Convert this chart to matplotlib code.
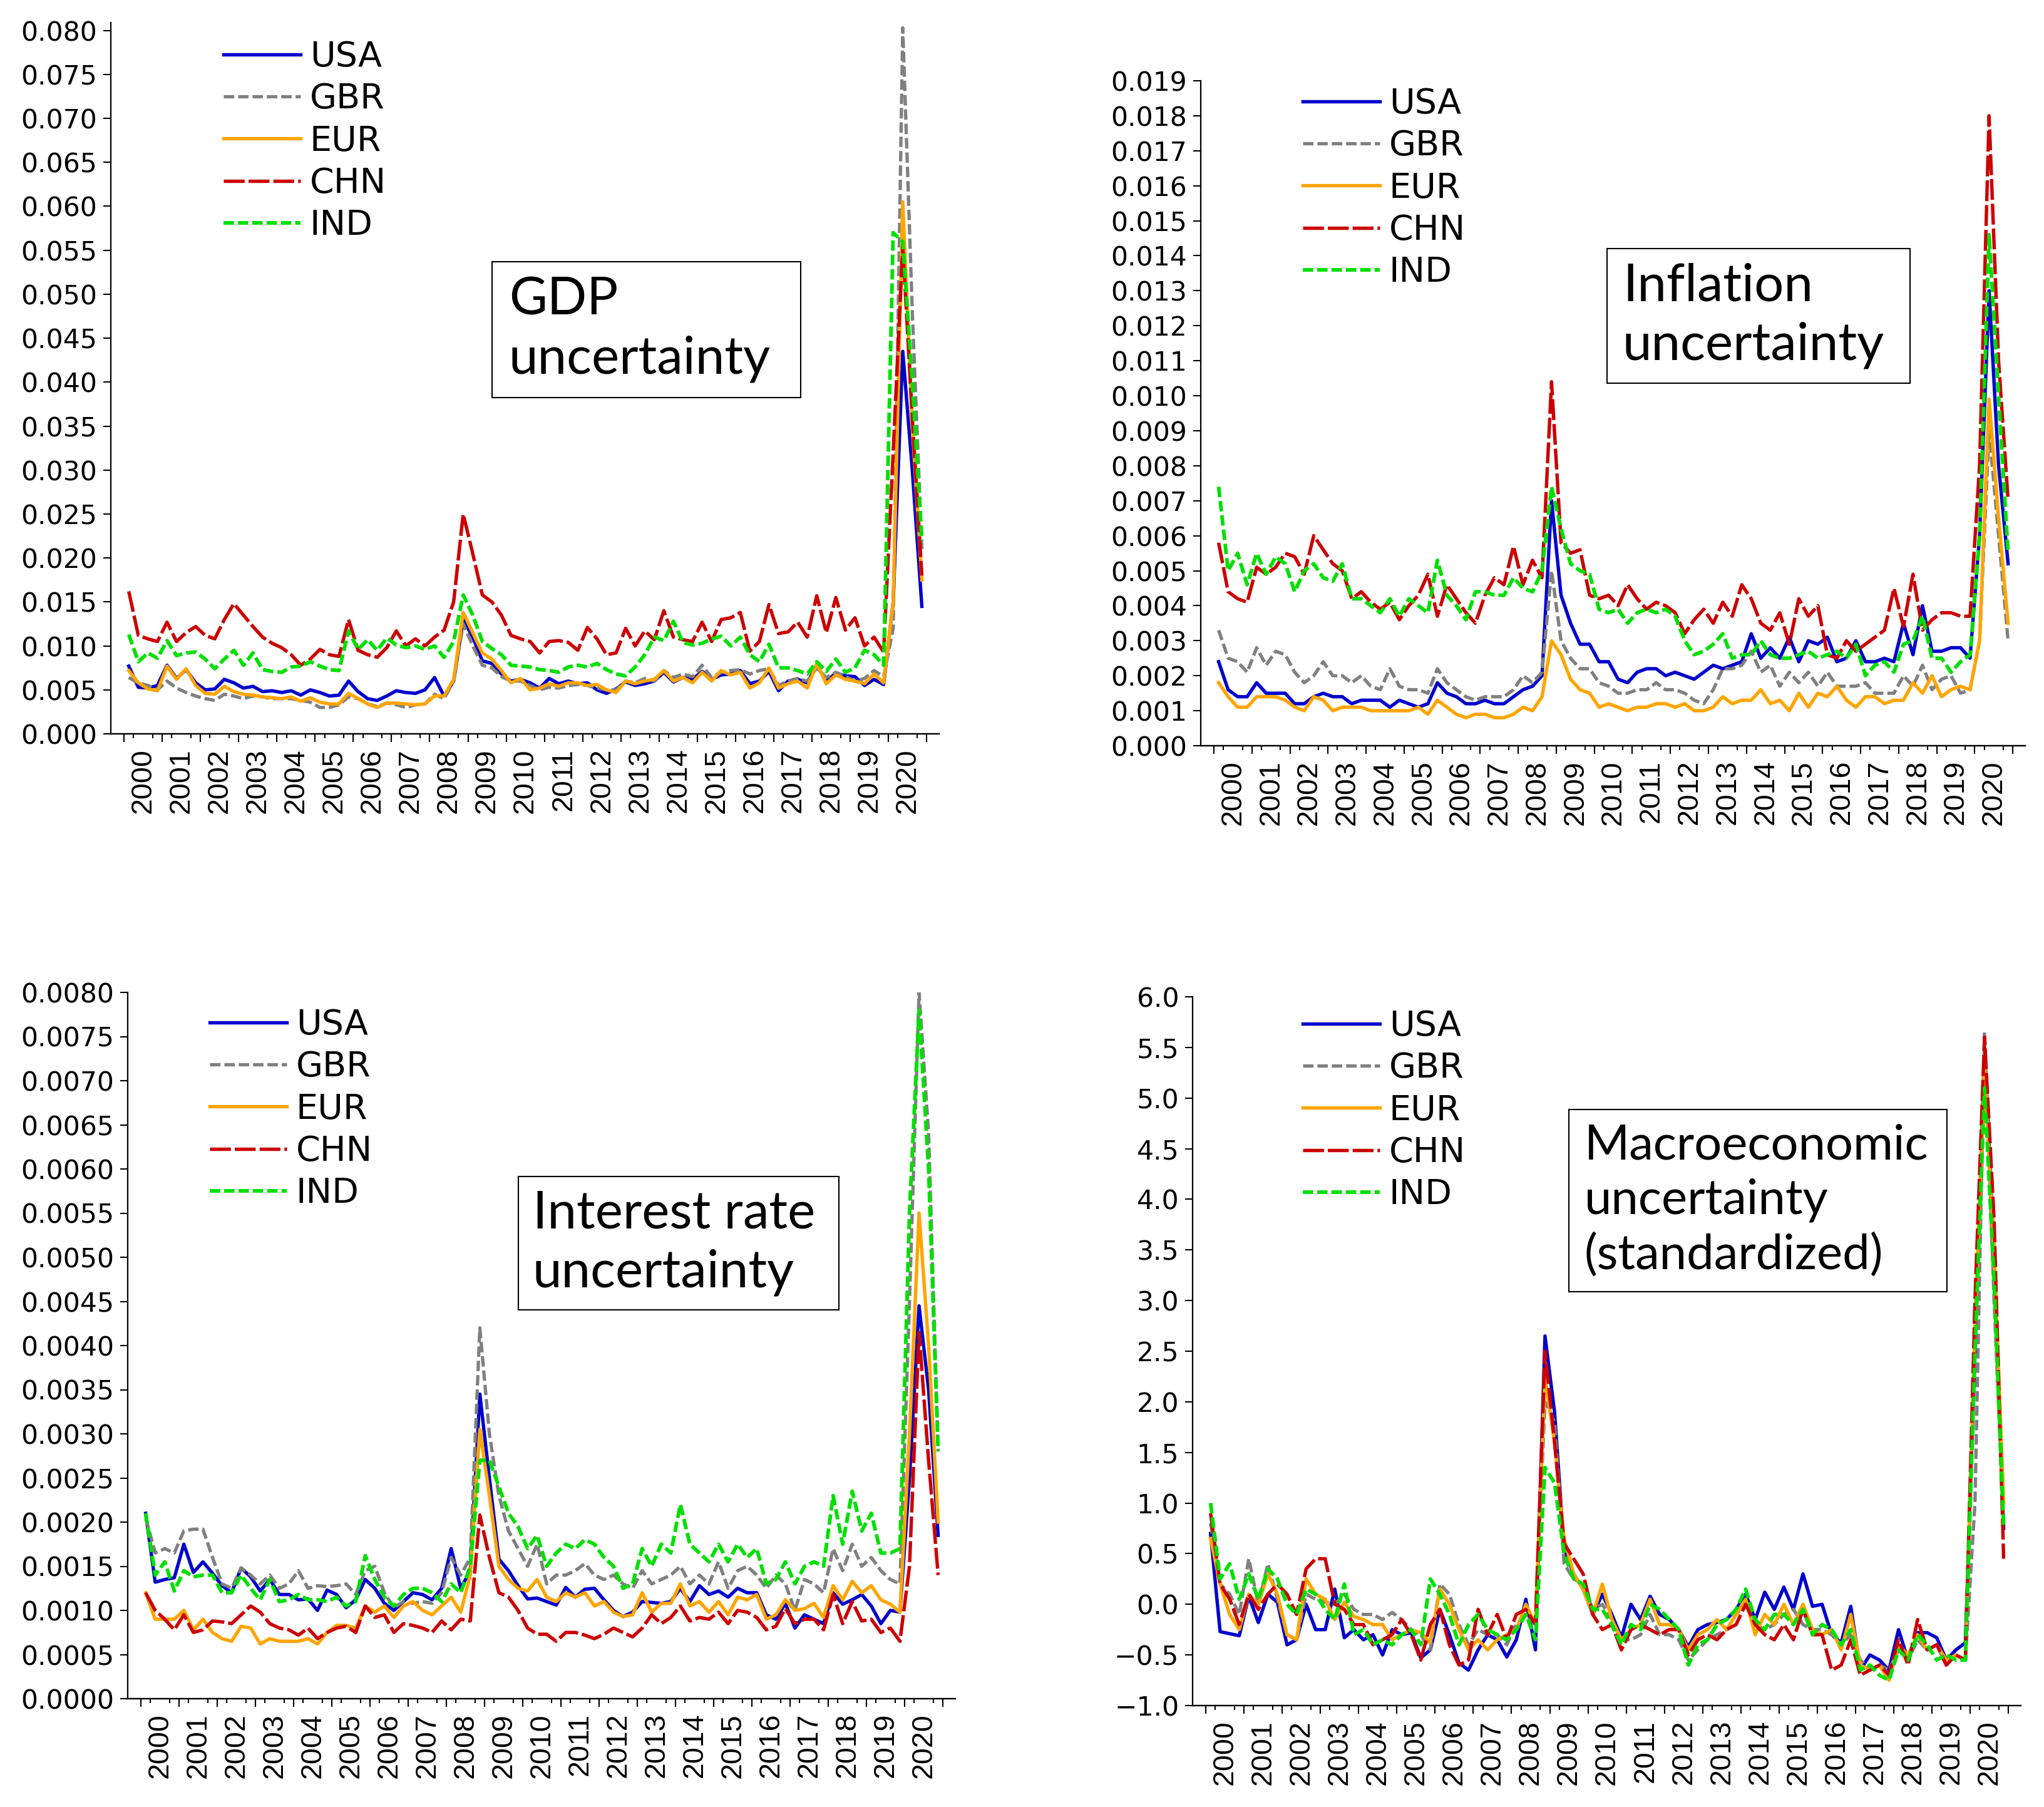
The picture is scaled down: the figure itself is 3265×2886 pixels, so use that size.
import numpy as np
import matplotlib
matplotlib.use("Agg")
import matplotlib.pyplot as plt
from matplotlib.patches import Rectangle
from matplotlib.ticker import FuncFormatter

plt.rcParams["lines.scale_dashes"] = False

# ---------------- data: quarterly, 2000Q1 .. 2020Q4 ----------------
years = list(range(2000, 2021))
countries = ["USA", "GBR", "EUR", "CHN", "IND"]

# GDP uncertainty
gdp_usa = [.0077, .0053, .0052, .0055, .0078, .0063, .0073, .0058, .0050, .0051, .0062, .0058,
           .0052, .0054, .0048, .0049, .0047, .0049, .0044, .0050, .0047, .0043, .0044, .0060,
           .0048, .0040, .0038, .0043, .0049, .0047, .0046, .0050, .0064, .0043, .0060, .0130,
           .0110, .0083, .0080, .0068, .0060, .0062, .0058, .0052, .0063, .0057, .0060, .0057,
           .0058, .0050, .0046, .0051, .0059, .0055, .0057, .0060, .0070, .0059, .0064, .0062,
           .0071, .0062, .0067, .0068, .0072, .0057, .0060, .0071, .0049, .0060, .0062, .0058,
           .0078, .0060, .0069, .0066, .0065, .0055, .0062, .0056, .0150, .0435, .0300, .0145]
gdp_gbr = [.0064, .0058, .0055, .0050, .0060, .0052, .0047, .0043, .0040, .0038, .0045, .0043,
           .0040, .0043, .0042, .0040, .0040, .0040, .0038, .0036, .0030, .0030, .0033, .0042,
           .0040, .0034, .0031, .0035, .0033, .0030, .0033, .0034, .0045, .0040, .0060, .0125,
           .0100, .0078, .0075, .0065, .0060, .0060, .0055, .0050, .0053, .0052, .0055, .0056,
           .0055, .0052, .0050, .0050, .0060, .0058, .0063, .0060, .0072, .0064, .0068, .0065,
           .0078, .0064, .0070, .0072, .0073, .0068, .0072, .0074, .0055, .0060, .0063, .0060,
           .0075, .0064, .0070, .0065, .0060, .0063, .0072, .0065, .0120, .0803, .0480, .0210]
gdp_eur = [.0072, .0058, .0051, .0049, .0077, .0062, .0074, .0055, .0046, .0045, .0054, .0048,
           .0045, .0044, .0042, .0041, .0040, .0042, .0037, .0041, .0036, .0034, .0034, .0046,
           .0040, .0034, .0030, .0035, .0035, .0034, .0033, .0034, .0043, .0043, .0062, .0138,
           .0115, .0092, .0085, .0072, .0058, .0063, .0050, .0052, .0057, .0054, .0058, .0058,
           .0055, .0056, .0050, .0047, .0060, .0057, .0060, .0062, .0072, .0060, .0064, .0058,
           .0070, .0060, .0072, .0067, .0070, .0052, .0058, .0075, .0052, .0057, .0060, .0052,
           .0080, .0057, .0067, .0062, .0060, .0057, .0068, .0058, .0150, .0605, .0350, .0175]
gdp_chn = [.0162, .0112, .0108, .0105, .0127, .0105, .0115, .0122, .0112, .0108, .0130, .0148,
           .0135, .0122, .0110, .0103, .0098, .0090, .0078, .0085, .0096, .0090, .0088, .0130,
           .0095, .0090, .0087, .0098, .0117, .0100, .0108, .0100, .0110, .0118, .0150, .0250,
           .0205, .0158, .0150, .0135, .0112, .0108, .0105, .0092, .0105, .0106, .0104, .0095,
           .0121, .0108, .0090, .0092, .0120, .0100, .0117, .0107, .0140, .0110, .0107, .0105,
           .0127, .0105, .0130, .0132, .0138, .0094, .0105, .0147, .0114, .0116, .0127, .0110,
           .0157, .0115, .0155, .0118, .0132, .0100, .0110, .0093, .0320, .0555, .0360, .0180]
gdp_ind = [.0113, .0082, .0092, .0086, .0106, .0089, .0092, .0093, .0085, .0074, .0085, .0095,
           .0078, .0092, .0073, .0071, .0070, .0076, .0077, .0082, .0077, .0073, .0072, .0117,
           .0096, .0107, .0095, .0109, .0101, .0098, .0100, .0096, .0100, .0087, .0105, .0158,
           .0135, .0105, .0097, .0090, .0078, .0077, .0076, .0073, .0072, .0070, .0076, .0078,
           .0076, .0080, .0073, .0068, .0066, .0076, .0090, .0110, .0106, .0128, .0104, .0101,
           .0103, .0108, .0111, .0100, .0110, .0090, .0082, .0102, .0075, .0075, .0072, .0068,
           .0082, .0071, .0085, .0070, .0075, .0095, .0090, .0078, .0570, .0560, .0400, .0220]

# Inflation uncertainty
inf_usa = [.0024, .0016, .0014, .0014, .0018, .0015, .0015, .0015, .0012, .0012, .0014, .0015,
           .0014, .0014, .0012, .0013, .0013, .0013, .0011, .0013, .0012, .0011, .0012, .0018,
           .0015, .0014, .0012, .0012, .0013, .0012, .0012, .0014, .0016, .0017, .0020, .0070,
           .0043, .0035, .0029, .0029, .0024, .0024, .0019, .0018, .0021, .0022, .0022, .0020,
           .0021, .0020, .0019, .0021, .0023, .0022, .0023, .0024, .0032, .0025, .0028, .0025,
           .0031, .0024, .0030, .0029, .0031, .0024, .0025, .0030, .0024, .0024, .0025, .0024,
           .0035, .0026, .0040, .0027, .0027, .0028, .0028, .0025, .0060, .0130, .0080, .0052]
inf_gbr = [.0033, .0025, .0024, .0021, .0028, .0023, .0027, .0026, .0021, .0018, .0020, .0024,
           .0020, .0020, .0018, .0020, .0017, .0016, .0022, .0017, .0016, .0016, .0015, .0022,
           .0018, .0016, .0014, .0013, .0014, .0014, .0014, .0016, .0020, .0018, .0021, .0050,
           .0030, .0025, .0022, .0022, .0018, .0017, .0015, .0015, .0016, .0016, .0018, .0016,
           .0016, .0015, .0013, .0012, .0016, .0022, .0022, .0023, .0027, .0021, .0023, .0017,
           .0021, .0018, .0021, .0017, .0021, .0017, .0017, .0017, .0018, .0015, .0015, .0015,
           .0020, .0017, .0023, .0016, .0019, .0020, .0015, .0016, .0030, .0090, .0060, .0030]
inf_eur = [.0018, .0014, .0011, .0011, .0014, .0014, .0014, .0013, .0011, .0010, .0014, .0013,
           .0010, .0011, .0011, .0011, .0010, .0010, .0010, .0010, .0010, .0011, .0009, .0013,
           .0011, .0009, .0008, .0009, .0009, .0008, .0008, .0009, .0011, .0010, .0014, .0030,
           .0026, .0019, .0016, .0015, .0011, .0012, .0011, .0010, .0011, .0011, .0012, .0012,
           .0011, .0012, .0010, .0010, .0011, .0014, .0012, .0013, .0013, .0016, .0012, .0013,
           .0010, .0015, .0011, .0015, .0014, .0017, .0013, .0011, .0014, .0014, .0012, .0013,
           .0013, .0018, .0015, .0020, .0014, .0016, .0017, .0016, .0030, .0099, .0065, .0035]
inf_chn = [.0058, .0044, .0042, .0041, .0051, .0049, .0051, .0055, .0054, .0049, .0060, .0056,
           .0052, .0050, .0042, .0044, .0041, .0039, .0041, .0036, .0040, .0043, .0049, .0037,
           .0046, .0042, .0038, .0035, .0043, .0048, .0046, .0057, .0046, .0053, .0048, .0104,
           .0058, .0055, .0056, .0043, .0042, .0043, .0040, .0046, .0042, .0039, .0041, .0040,
           .0038, .0032, .0036, .0039, .0035, .0041, .0037, .0046, .0042, .0035, .0033, .0038,
           .0029, .0042, .0037, .0040, .0026, .0025, .0030, .0027, .0029, .0031, .0033, .0045,
           .0034, .0049, .0033, .0036, .0038, .0038, .0037, .0037, .0080, .0180, .0110, .0070]
inf_ind = [.0074, .0050, .0055, .0046, .0055, .0049, .0054, .0052, .0044, .0050, .0052, .0048,
           .0047, .0052, .0042, .0042, .0040, .0038, .0042, .0037, .0042, .0040, .0038, .0053,
           .0043, .0040, .0036, .0044, .0044, .0043, .0043, .0048, .0045, .0044, .0050, .0074,
           .0062, .0052, .0050, .0049, .0039, .0038, .0039, .0035, .0038, .0039, .0038, .0039,
           .0037, .0030, .0026, .0027, .0029, .0032, .0025, .0026, .0026, .0030, .0026, .0025,
           .0025, .0026, .0027, .0025, .0026, .0027, .0025, .0029, .0020, .0023, .0024, .0021,
           .0029, .0030, .0037, .0025, .0025, .0021, .0024, .0026, .0060, .0146, .0100, .0055]

# Interest rate uncertainty
int_usa = [.00210, .00132, .00135, .00137, .00175, .00143, .00155, .00142, .00128, .00120, .00148, .00138,
           .00122, .00135, .00118, .00118, .00112, .00113, .00100, .00123, .00118, .00103, .00112, .00135,
           .00125, .00108, .00100, .00110, .00120, .00118, .00112, .00125, .00170, .00125, .00145, .00345,
           .00250, .00158, .00145, .00128, .00113, .00114, .00110, .00106, .00126, .00115, .00124, .00125,
           .00112, .00100, .00093, .00098, .00110, .00109, .00108, .00110, .00125, .00110, .00128, .00118,
           .00122, .00115, .00125, .00120, .00120, .00095, .00090, .00108, .00080, .00095, .00090, .00085,
           .00120, .00107, .00112, .00118, .00105, .00085, .00100, .00098, .00250, .00445, .00350, .00185]
int_gbr = [.00205, .00165, .00170, .00165, .00190, .00192, .00192, .00160, .00130, .00125, .00148, .00140,
           .00130, .00140, .00125, .00130, .00145, .00125, .00128, .00127, .00128, .00130, .00118, .00145,
           .00150, .00120, .00103, .00110, .00108, .00110, .00108, .00120, .00160, .00140, .00160, .00420,
           .00300, .00230, .00190, .00170, .00150, .00175, .00130, .00140, .00140, .00145, .00153, .00140,
           .00135, .00140, .00130, .00125, .00145, .00130, .00135, .00140, .00150, .00130, .00140, .00130,
           .00155, .00125, .00145, .00150, .00140, .00125, .00140, .00130, .00100, .00135, .00130, .00120,
           .00170, .00145, .00175, .00150, .00160, .00145, .00135, .00130, .00450, .00800, .00640, .00280]
int_eur = [.00120, .00090, .00090, .00090, .00100, .00078, .00090, .00075, .00068, .00065, .00082, .00080,
           .00062, .00068, .00065, .00065, .00065, .00068, .00062, .00075, .00083, .00083, .00080, .00105,
           .00098, .00105, .00092, .00105, .00110, .00100, .00095, .00105, .00115, .00098, .00140, .00305,
           .00230, .00150, .00135, .00125, .00122, .00135, .00115, .00110, .00120, .00115, .00120, .00105,
           .00110, .00098, .00093, .00095, .00120, .00098, .00108, .00108, .00130, .00105, .00110, .00098,
           .00110, .00095, .00115, .00112, .00118, .00090, .00095, .00112, .00100, .00102, .00108, .00092,
           .00128, .00112, .00133, .00120, .00128, .00112, .00107, .00098, .00300, .00550, .00400, .00200]
int_chn = [.00120, .00100, .00090, .00078, .00095, .00075, .00078, .00088, .00087, .00085, .00095, .00105,
           .00098, .00085, .00080, .00078, .00072, .00080, .00068, .00075, .00080, .00082, .00075, .00105,
           .00092, .00095, .00075, .00085, .00083, .00080, .00075, .00088, .00078, .00090, .00088, .00208,
           .00160, .00120, .00115, .00100, .00080, .00073, .00073, .00065, .00075, .00075, .00072, .00068,
           .00073, .00080, .00075, .00070, .00080, .00095, .00085, .00092, .00105, .00088, .00092, .00090,
           .00098, .00085, .00100, .00098, .00092, .00078, .00082, .00102, .00085, .00090, .00090, .00078,
           .00118, .00085, .00110, .00088, .00090, .00075, .00080, .00065, .00150, .00415, .00270, .00140]
int_ind = [.00210, .00140, .00155, .00122, .00145, .00138, .00140, .00140, .00120, .00120, .00140, .00125,
           .00112, .00135, .00110, .00112, .00118, .00112, .00112, .00110, .00115, .00105, .00110, .00162,
           .00135, .00115, .00105, .00118, .00125, .00125, .00120, .00110, .00130, .00120, .00150, .00270,
           .00270, .00240, .00210, .00195, .00170, .00185, .00150, .00165, .00175, .00170, .00180, .00175,
           .00160, .00150, .00125, .00130, .00170, .00150, .00175, .00165, .00220, .00175, .00165, .00155,
           .00175, .00155, .00175, .00160, .00170, .00130, .00135, .00155, .00130, .00150, .00155, .00150,
           .00230, .00175, .00235, .00190, .00210, .00165, .00165, .00170, .00550, .00780, .00600, .00280]

# Macroeconomic uncertainty (standardized)
mac_usa = [0.70, -0.27, -0.29, -0.31, 0.08, -0.18, 0.10, 0.02, -0.40, -0.35, 0.00, -0.25,
           -0.25, 0.15, -0.33, -0.25, -0.35, -0.30, -0.50, -0.25, -0.30, -0.28, -0.53, -0.45,
           -0.05, -0.30, -0.58, -0.65, -0.45, -0.30, -0.35, -0.52, -0.35, 0.05, -0.45, 2.65,
           1.90, 0.55, 0.30, 0.15, -0.10, 0.10, -0.10, -0.33, 0.00, -0.15, 0.08, -0.10,
           -0.15, -0.25, -0.42, -0.25, -0.20, -0.18, -0.15, -0.05, 0.10, -0.15, 0.12, -0.05,
           0.17, -0.05, 0.30, -0.02, 0.00, -0.30, -0.38, -0.02, -0.65, -0.50, -0.55, -0.65,
           -0.25, -0.55, -0.28, -0.28, -0.33, -0.55, -0.45, -0.38, 2.50, 5.50, 3.50, 0.75]
mac_gbr = [0.80, 0.20, 0.10, -0.10, 0.45, 0.00, 0.40, 0.05, -0.30, -0.35, 0.10, 0.05,
           0.02, 0.00, 0.10, -0.05, -0.10, -0.10, -0.15, -0.08, -0.15, -0.25, -0.30, -0.45,
           0.20, 0.10, -0.20, -0.40, -0.25, -0.30, -0.30, -0.40, -0.20, -0.10, -0.20, 2.00,
           1.80, 0.40, 0.25, 0.20, -0.05, 0.00, -0.15, -0.35, -0.35, -0.30, -0.10, -0.30,
           -0.30, -0.35, -0.55, -0.45, -0.35, -0.30, -0.25, -0.10, 0.00, -0.20, -0.25, -0.20,
           -0.10, -0.05, -0.20, -0.25, -0.25, -0.30, -0.40, -0.30, -0.55, -0.65, -0.60, -0.65,
           -0.45, -0.55, -0.35, -0.45, -0.40, -0.60, -0.50, -0.55, 1.00, 5.65, 3.00, 0.80]
mac_eur = [0.65, 0.20, -0.10, -0.25, 0.10, 0.00, 0.30, 0.10, -0.30, -0.35, 0.25, 0.10,
           0.05, -0.15, 0.02, -0.12, -0.15, -0.20, -0.20, -0.35, -0.30, -0.25, -0.28, -0.38,
           0.15, 0.00, -0.25, -0.45, -0.35, -0.45, -0.35, -0.30, -0.25, 0.00, -0.20, 2.25,
           1.60, 0.65, 0.30, 0.15, -0.10, 0.20, -0.15, -0.35, -0.25, -0.20, 0.05, -0.20,
           -0.20, -0.25, -0.45, -0.30, -0.25, -0.15, -0.25, -0.10, 0.05, -0.30, -0.10, -0.20,
           0.00, -0.20, 0.00, -0.25, -0.30, -0.25, -0.45, -0.10, -0.60, -0.65, -0.60, -0.75,
           -0.40, -0.50, -0.30, -0.45, -0.40, -0.55, -0.50, -0.55, 2.80, 5.30, 3.50, 1.00]
mac_chn = [0.90, 0.20, 0.05, -0.20, 0.10, -0.05, 0.10, 0.20, 0.10, -0.10, 0.35, 0.45,
           0.45, 0.00, -0.05, -0.20, -0.20, -0.40, -0.35, -0.30, -0.15, -0.30, -0.55, -0.20,
           -0.05, -0.40, -0.60, -0.55, -0.05, -0.30, -0.10, -0.35, -0.10, -0.05, -0.20, 2.50,
           1.60, 0.60, 0.45, 0.30, -0.10, -0.25, -0.20, -0.45, -0.25, -0.20, -0.25, -0.30,
           -0.25, -0.25, -0.50, -0.35, -0.30, -0.35, -0.25, -0.20, 0.00, -0.20, -0.30, -0.35,
           -0.20, -0.35, -0.05, -0.30, -0.30, -0.65, -0.60, -0.35, -0.70, -0.65, -0.60, -0.70,
           -0.35, -0.60, -0.15, -0.45, -0.40, -0.60, -0.50, -0.55, 3.00, 5.60, 3.80, 0.45]
mac_ind = [1.00, 0.25, 0.40, 0.05, 0.30, 0.05, 0.35, 0.25, 0.00, -0.10, 0.15, 0.10,
           -0.05, -0.15, 0.20, -0.30, -0.25, -0.40, -0.35, -0.40, -0.30, -0.25, -0.40, 0.25,
           0.10, -0.10, -0.40, -0.20, -0.10, -0.25, -0.30, -0.35, -0.25, -0.10, -0.35, 1.35,
           1.20, 0.50, 0.25, 0.20, -0.05, -0.05, -0.20, -0.40, -0.20, -0.25, 0.00, -0.05,
           -0.15, -0.25, -0.60, -0.40, -0.35, -0.20, -0.15, -0.05, 0.15, -0.15, -0.25, -0.10,
           -0.10, -0.20, -0.05, -0.30, -0.20, -0.25, -0.40, -0.25, -0.65, -0.60, -0.70, -0.75,
           -0.45, -0.55, -0.30, -0.40, -0.55, -0.50, -0.55, -0.55, 2.50, 5.10, 3.20, 0.75]

panel_titles = ["GDP\nuncertainty", "Inflation\nuncertainty",
                "Interest rate\nuncertainty", "Macroeconomic\nuncertainty\n(standardized)"]

# ---------------- styling ----------------
W, H = 3266, 2886
colors = ["#0000CD", "#808080", "#FFA500", "#CC0000", "#00E000"]
dash_specs = [None, (12, 4.5), None, (24, 4.5), (12, 4.5)]
widths = [3.9, 3.8, 3.9, 3.9, 4.2]

fig = plt.figure(figsize=(W / 100, H / 100), dpi=100)
fig.patch.set_facecolor("white")

n = len(years) * 4
x = np.arange(n)
XL = (-1.88, 84.8)


def fmt3(v, _):
    return f"{v:.3f}"


def fmt4(v, _):
    return f"{v:.4f}"


def fmt1(v, _):
    return f"{v:.1f}".replace("-", "\u2212")


panels = [
    dict(series=[gdp_usa, gdp_gbr, gdp_eur, gdp_chn, gdp_ind],
         box=(177, 1500, 36, 1172), ylim=(0, 0.0809), yt=np.arange(0, 0.08001, 0.005), fmt=fmt3,
         leg=(357, 93), tbox=(786, 1279, 418, 635), tx=813, tfs=60),
    dict(series=[inf_usa, inf_gbr, inf_eur, inf_chn, inf_ind],
         box=(1918, 3235, 129, 1191), ylim=(0, 0.019), yt=np.arange(0, 0.01901, 0.001), fmt=fmt3,
         leg=(2081, 168), tbox=(2567, 3051, 397, 612), tx=2592, tfs=60),
    dict(series=[int_usa, int_gbr, int_eur, int_chn, int_ind],
         box=(204, 1526, 1585, 2713), ylim=(0, 0.0080), yt=np.arange(0, 0.00801, 0.0005), fmt=fmt4,
         leg=(335, 1639), tbox=(828, 1340, 1879, 2092), tx=851, tfs=60),
    dict(series=[mac_usa, mac_gbr, mac_eur, mac_chn, mac_ind],
         box=(1905, 3228, 1592, 2724), ylim=(-1.0, 6.0), yt=np.arange(-1.0, 6.01, 0.5), fmt=fmt1,
         leg=(2081, 1641), tbox=(2506, 3110, 1772, 2063), tx=2531, tfs=56),
]

for p, title in zip(panels, panel_titles):
    l, r, t, b = p["box"]
    ax = fig.add_axes([l / W, 1 - b / H, (r - l) / W, (b - t) / H])
    handles = []
    for vals, name, c, d, lw in zip(p["series"], countries, colors, dash_specs, widths):
        kw = dict(color=c, lw=lw, label=name, solid_joinstyle="round")
        if d is not None:
            kw["dashes"] = d
        h, = ax.plot(x, vals, **kw)
        handles.append(h)
    ax.set_xlim(*XL)
    ax.set_ylim(*p["ylim"])
    for s in ("top", "right"):
        ax.spines[s].set_visible(False)
    for s in ("left", "bottom"):
        ax.spines[s].set_linewidth(1.6)
    # y axis
    ax.set_yticks(p["yt"])
    ax.yaxis.set_major_formatter(FuncFormatter(p["fmt"]))
    ax.tick_params(axis="y", direction="out", length=8.6, width=1.5, pad=7, labelsize=30.6)
    # x axis: labels at mid-year, short ticks at quarter boundaries
    ax.set_xticks([4 * k + 1.5 for k in range(len(years))])
    ax.set_xticklabels([str(yy) for yy in years], rotation=90, fontsize=33.5,
                       family="Liberation Sans", va="top", ha="center")
    ax.set_xticks(np.arange(n + 1) - 0.5, minor=True)
    ax.tick_params(axis="x", which="major", length=0, pad=16.5)
    ax.tick_params(axis="x", which="minor", direction="out", length=5, width=1.5)
    sec = ax.secondary_xaxis("bottom")
    sec.set_xticks([4 * k - 0.5 for k in range(len(years) + 1)])
    sec.set_xticklabels([])
    sec.tick_params(axis="x", direction="out", length=9.4, width=1.5)
    sec.spines["bottom"].set_linewidth(1.6)
    # legend
    lx, ly = p["leg"]
    ax.legend(handles=handles, loc="upper left", bbox_to_anchor=(lx / W, 1 - (ly - 29) / H),
              bbox_transform=fig.transFigure, frameon=False, fontsize=40,
              handlelength=2.21, handletextpad=0.27, labelspacing=0.24,
              borderpad=0, borderaxespad=0)
    # text box
    x0, x1, y0, y1 = p["tbox"]
    fig.add_artist(Rectangle((x0 / W, 1 - y1 / H), (x1 - x0) / W, (y1 - y0) / H,
                             transform=fig.transFigure, facecolor="white",
                             edgecolor="black", lw=1.5, zorder=5))
    fig.text(p["tx"] / W, 1 - (y0 + y1) / 2 / H, title, ha="left", va="center",
             fontsize=p["tfs"], family="Lato", linespacing=1.28, zorder=6)

fig.savefig("out.png", dpi=100, facecolor="white")
